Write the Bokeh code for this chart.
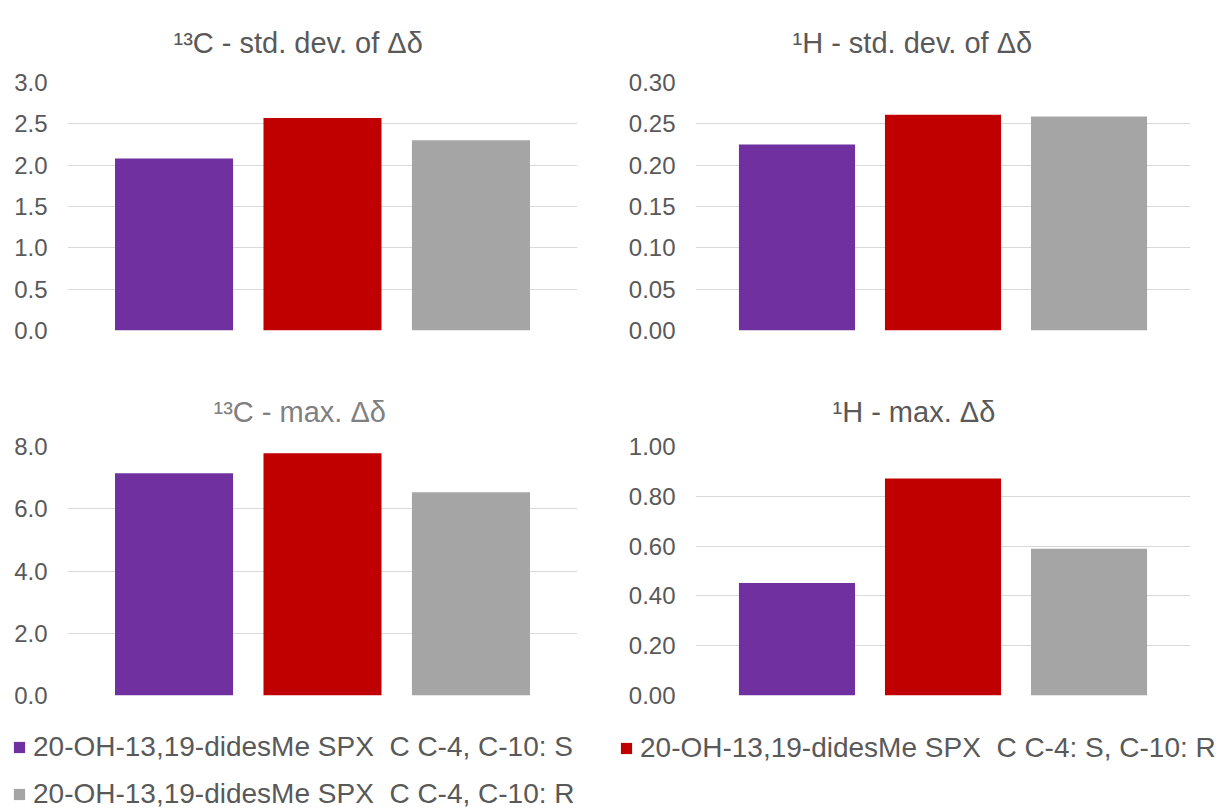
from bokeh.plotting import figure
from bokeh.layouts import column, row
from bokeh.models import (FactorRange, Range1d, FixedTicker, NumeralTickFormatter,
                          Legend, LegendItem, ColumnDataSource)
from bokeh.embed import file_html
from bokeh.resources import INLINE

# ---------------- data ----------------
series = [
    "20-OH-13,19-didesMe SPX  C C-4, C-10: S",
    "20-OH-13,19-didesMe SPX  C C-4: S, C-10: R",
    "20-OH-13,19-didesMe SPX  C C-4, C-10: R",
]
colors = ["#7030A0", "#C00000", "#A5A5A5"]

c13_std = [2.08, 2.57, 2.30]
h1_std = [0.225, 0.261, 0.259]
c13_max = [7.14, 7.78, 6.53]
h1_max = [0.452, 0.871, 0.589]

c13_std_ticks = [0.0, 0.5, 1.0, 1.5, 2.0, 2.5, 3.0]
h1_std_ticks = [0.00, 0.05, 0.10, 0.15, 0.20, 0.25, 0.30]
c13_max_ticks = [0.0, 2.0, 4.0, 6.0, 8.0]
h1_max_ticks = [0.00, 0.20, 0.40, 0.60, 0.80, 1.00]

titles = ["\u00b9\u00b3C - std. dev. of \u0394\u03b4",
          "\u00b9H - std. dev. of \u0394\u03b4",
          "\u00b9\u00b3C - max. \u0394\u03b4",
          "\u00b9H - max. \u0394\u03b4"]

FONT = "Liberation Sans"
TEXT = "#595959"

col_cfg = {
    "left": dict(width=600, min_border_left=67, min_border_right=23, pad=0.145),
    "right": dict(width=616, min_border_left=95, min_border_right=26, pad=0.13),
}
row_cfg = {
    "top": dict(height=373, min_border_top=82, min_border_bottom=43, standoff=47),
    "bottom": dict(height=337, min_border_top=73, min_border_bottom=15, standoff=38),
}


def panel(title, values, ticks, fmt, col, rw, title_off, title_color=TEXT):
    c = col_cfg[col]
    r = row_cfg[rw]
    p = figure(width=c["width"], height=r["height"],
               x_range=FactorRange(factors=series, range_padding=c["pad"],
                                   range_padding_units="percent"),
               y_range=Range1d(ticks[0], ticks[-1]),
               output_backend="svg", toolbar_location=None, tools="",
               min_border_left=c["min_border_left"], min_border_right=c["min_border_right"],
               min_border_top=r["min_border_top"], min_border_bottom=r["min_border_bottom"])
    src = ColumnDataSource(dict(x=series, top=values, color=colors))
    p.vbar(x="x", top="top", width=0.795, fill_color="color", line_color=None, source=src)

    p.title.text = title
    p.title.text_font = FONT
    p.title.text_font_size = "29px"
    p.title.text_font_style = "normal"
    p.title.text_color = title_color
    p.title.align = "left"
    p.title.vertical_align = "bottom"
    p.title.offset = title_off
    p.title.standoff = r["standoff"]

    p.xaxis.visible = False
    p.xgrid.visible = False
    p.ygrid.grid_line_color = "#D9D9D9"
    p.ygrid.grid_line_width = 1
    p.yaxis.ticker = FixedTicker(ticks=ticks)
    p.yaxis.formatter = NumeralTickFormatter(format=fmt)
    p.yaxis.axis_line_color = None
    p.yaxis.major_tick_line_color = None
    p.yaxis.minor_tick_line_color = None
    p.yaxis.major_tick_out = 0
    p.yaxis.major_tick_in = 0
    p.yaxis.major_label_standoff = 20
    p.yaxis.major_label_text_font = FONT
    p.yaxis.major_label_text_font_size = "24px"
    p.yaxis.major_label_text_color = TEXT
    p.outline_line_color = None
    p.background_fill_color = "white"
    return p


p1 = panel(titles[0], c13_std, c13_std_ticks, "0.0", "left", "top", 106)
p2 = panel(titles[1], h1_std, h1_std_ticks, "0.00", "right", "top", 97)
p3 = panel(titles[2], c13_max, c13_max_ticks, "0.0", "left", "bottom", 146, title_color="#808080")
p4 = panel(titles[3], h1_max, h1_max_ticks, "0.00", "right", "bottom", 137)

# ---------------- legend ----------------
pl = figure(width=1216, height=100, x_range=FactorRange(factors=series), y_range=Range1d(0, 1),
            output_backend="svg", toolbar_location=None, tools="",
            min_border_left=0, min_border_right=0, min_border_top=0, min_border_bottom=0,
            x_axis_type=None, y_axis_type=None)
pl.grid.visible = False
pl.outline_line_color = None
rends = []
for s, col in zip(series, colors):
    # zero-height bars: they only supply the legend swatches
    rr = pl.vbar(x=[s], top=0, bottom=0, width=0.5, fill_color=col, line_color=None)
    rends.append(rr)


def make_legend(items, loc):
    lg = Legend(items=items, location=loc, orientation="vertical",
                padding=0, margin=0, spacing=15,
                glyph_width=14, glyph_height=14, label_standoff=7,
                label_text_font=FONT, label_text_font_size="28px",
                label_text_color=TEXT, border_line_color=None,
                background_fill_alpha=0)
    return lg


leg_a = make_legend([LegendItem(label=series[0], renderers=[rends[0]]),
                     LegendItem(label=series[2], renderers=[rends[2]])], (12, 0))
leg_b = make_legend([LegendItem(label=series[1], renderers=[rends[1]])], (619, 46))
pl.add_layout(leg_a, "center")
pl.add_layout(leg_b, "center")

layout = column(row(p1, p2), row(p3, p4), pl)

open("out.html", "w").write(file_html(layout, INLINE))
